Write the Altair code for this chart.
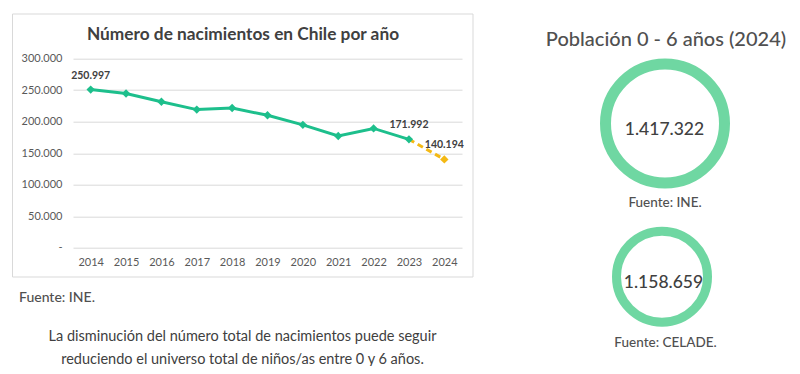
import altair as alt
import pandas as pd

# ---------------- data ----------------
anios = ["2014", "2015", "2016", "2017", "2018", "2019", "2020", "2021", "2022", "2023", "2024"]
nacimientos = [250997, 244670, 231749, 219186, 221731, 210188, 194978, 177273, 189310, 171992, 140194]
anios_etiqueta = ["2014", "2023", "2024"]
etiquetas = ["250.997", "171.992", "140.194"]
y_ticks = [0, 50000, 100000, 150000, 200000, 250000, 300000]

titulo_grafico = "Número de nacimientos en Chile por año"
titulo_derecha = "Población 0 - 6 años (2024)"
poblacion_textos = ["1.417.322", "1.158.659"]
fuentes_circulos = ["Fuente: INE.", "Fuente: CELADE."]
fuente_grafico = "Fuente: INE."
parrafo = ["La disminución del número total de nacimientos puede seguir",
           "reduciendo el universo total de niños/as entre 0 y 6 años."]

# ---------------- styles / layout ----------------
FONT = "Lato"
GREEN = "#1dbf8c"
YELLOW = "#f4b914"
RING = "#6fd7a2"
TXT = "#404040"
X0, Y0 = 73.0, 58.7          # absolute page position of plot origin
W, H = 389, 189


def px(a):
    return a - X0


def py(a):
    return a - Y0


df = pd.DataFrame({"anio": anios, "nac": nacimientos})
df_real = df.iloc[:10]
df_proy = df.iloc[9:]
df_lab = df[df["anio"].isin(anios_etiqueta)].copy()
df_lab["lab"] = etiquetas

x_enc = alt.X("anio:O", scale=alt.Scale(type="point", padding=0.5),
              axis=alt.Axis(title=None, labelAngle=0, domain=False, ticks=False,
                            labelColor="#595959", labelFontSize=11, labelFont=FONT,
                            labelPadding=9, grid=False))
y_enc = alt.Y("nac:Q", scale=alt.Scale(domain=[0, 300000]),
              axis=alt.Axis(title=None, values=y_ticks, domain=False, ticks=False,
                            labelColor="#595959", labelFontSize=11, labelFont=FONT,
                            labelPadding=11, gridColor="#d9d9d9", gridWidth=1,
                            labelExpr="datum.value == 0 ? '-' : (datum.value/1000) + '.000'"))

one = pd.DataFrame({"k": [0]})

border = alt.Chart(one).mark_rect(fillOpacity=0, stroke="#d9d9d9", strokeWidth=1).encode(
    x=alt.value(px(12.5)), x2=alt.value(px(473)), y=alt.value(py(14)), y2=alt.value(py(277)))

line_real = alt.Chart(df_real).mark_line(color=GREEN, strokeWidth=3).encode(x=x_enc, y=y_enc)
line_proy = alt.Chart(df_proy).mark_line(color=YELLOW, strokeWidth=3, strokeDash=[6, 4]).encode(x=x_enc, y=y_enc)
pts_real = alt.Chart(df_real).mark_point(shape="diamond", filled=True, size=70, color=GREEN, opacity=1).encode(x=x_enc, y=y_enc)
pts_proy = alt.Chart(df.iloc[10:]).mark_point(shape="diamond", filled=True, size=70, color=YELLOW, opacity=1).encode(x=x_enc, y=y_enc)
labels = alt.Chart(df_lab).mark_text(dy=-14, fontSize=10.5, fontWeight="bold", color=TXT, font=FONT).encode(
    x=x_enc, y=y_enc, text="lab:N")


def texto(t, ax, ay, size, color=TXT, weight="normal", align="center"):
    return alt.Chart(pd.DataFrame({"t": [t]})).mark_text(
        align=align, baseline="middle", fontSize=size, color=color, fontWeight=weight, font=FONT
    ).encode(x=alt.value(px(ax)), y=alt.value(py(ay)), text="t:N")


def anillo(ax, ay, diam, sw):
    return alt.Chart(one).mark_point(shape="circle", filled=False, size=diam * diam, strokeWidth=sw,
                                     color=RING, opacity=1).encode(x=alt.value(px(ax)), y=alt.value(py(ay)))


layers = [
    border, line_real, line_proy, pts_real, pts_proy, labels,
    texto(titulo_grafico, 243, 35, 17.3, TXT, "bold"),
    texto(fuente_grafico, 19, 298, 14, "#505050", 500, "left"),
    texto(parrafo[0], 242.5, 337, 14.5, "#404040", "normal"),
    texto(parrafo[1], 242.5, 360, 14.5, "#404040", "normal"),
    texto(titulo_derecha, 666, 40, 20, "#505050", 500),
    anillo(665, 123.5, 119, 11),
    texto(poblacion_textos[0], 664.5, 130, 17.5, TXT, 500),
    texto(fuentes_circulos[0], 665, 203, 13.5, "#505050", 500),
    anillo(662, 276.7, 91, 9),
    texto(poblacion_textos[1], 663.5, 283, 17.5, TXT, 500),
    texto(fuentes_circulos[1], 665.5, 343, 13.5, "#505050", 500),
]

chart = alt.layer(*layers).properties(
    width=W, height=H,
    autosize=alt.AutoSizeParams(type="none"),
    padding={"left": X0 - 8, "top": Y0 - 8, "right": 784 - (X0 - 8) - W, "bottom": 358 - (Y0 - 8) - H},
    background="white",
).configure_view(stroke=None)

chart.save("out.html", embed_options={"renderer": "svg", "actions": False})
